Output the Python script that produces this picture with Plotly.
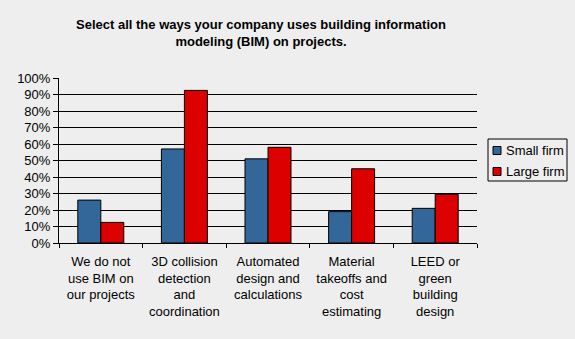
import plotly.graph_objects as go

categories = [
    "We do not<br>use BIM on<br>our projects",
    "3D collision<br>detection<br>and<br>coordination",
    "Automated<br>design and<br>calculations",
    "Material<br>takeoffs and<br>cost<br>estimating",
    "LEED or<br>green<br>building<br>design",
]
small_firm = [0.26, 0.57, 0.51, 0.19, 0.21]
large_firm = [0.125, 0.925, 0.58, 0.45, 0.295]
y_ticks = [i / 10 for i in range(11)]
series_names = ["Small firm", "Large firm"]
series_colors = ["#336699", "#DD0000"]

FONT = "Liberation Sans, Arial, sans-serif"

fig = go.Figure()
for name, vals, col in zip(series_names, [small_firm, large_firm], series_colors):
    fig.add_trace(go.Bar(name=name, x=categories, y=vals,
                         marker=dict(color=col, line=dict(color="black", width=1))))

W, H = 575, 339
fig.update_layout(
    width=W, height=H,
    paper_bgcolor="#EEEEEE", plot_bgcolor="#EEEEEE",
    margin=dict(l=59, r=98, t=78, b=96),
    barmode="group", bargap=0.45, bargroupgap=0,
    font=dict(family=FONT, size=13, color="black"),
    title=dict(text="<b>Select all the ways your company uses building information<br>modeling (BIM) on projects.</b>",
               x=261 / W, xanchor="center", y=0.915, yanchor="top",
               font=dict(family=FONT, size=13, color="black")),
    showlegend=False,
)

# legend drawn as a compact box (matches reference style)
shapes = [dict(type="rect", xref="paper", yref="paper",
               x0=(488 - 59) / 418, x1=(567 - 59) / 418,
               y0=(243 - 181) / 165, y1=(243 - 139) / 165,
               line=dict(color="black", width=1), fillcolor="#EEEEEE")]
annotations = []
for i, (name, col) in enumerate(zip(series_names, series_colors)):
    yc = 150.5 + 21 * i
    shapes.append(dict(type="rect", xref="paper", yref="paper",
                       x0=(493 - 59) / 418, x1=(501 - 59) / 418,
                       y0=(243 - yc - 4) / 165, y1=(243 - yc + 4) / 165,
                       line=dict(color="black", width=1), fillcolor=col))
    annotations.append(dict(text=name, xref="paper", yref="paper",
                            x=(504 - 59) / 418, y=(243 - yc) / 165,
                            xanchor="left", yanchor="middle", showarrow=False,
                            font=dict(family=FONT, size=13, color="black")))
fig.update_layout(shapes=shapes, annotations=annotations)

fig.update_yaxes(range=[0, 1], tickvals=y_ticks, tickformat=".0%",
                 showgrid=True, gridcolor="black", gridwidth=1,
                 showline=True, linecolor="black", linewidth=1,
                 ticks="outside", ticklen=5, tickcolor="black",
                 zeroline=False, fixedrange=True)
fig.update_xaxes(showline=True, linecolor="black", linewidth=1,
                 ticks="outside", ticklen=4, tickcolor="black",
                 tickson="boundaries", showgrid=False, tickangle=0,
                 ticklabelstandoff=6)

fig.write_html("out.html")
